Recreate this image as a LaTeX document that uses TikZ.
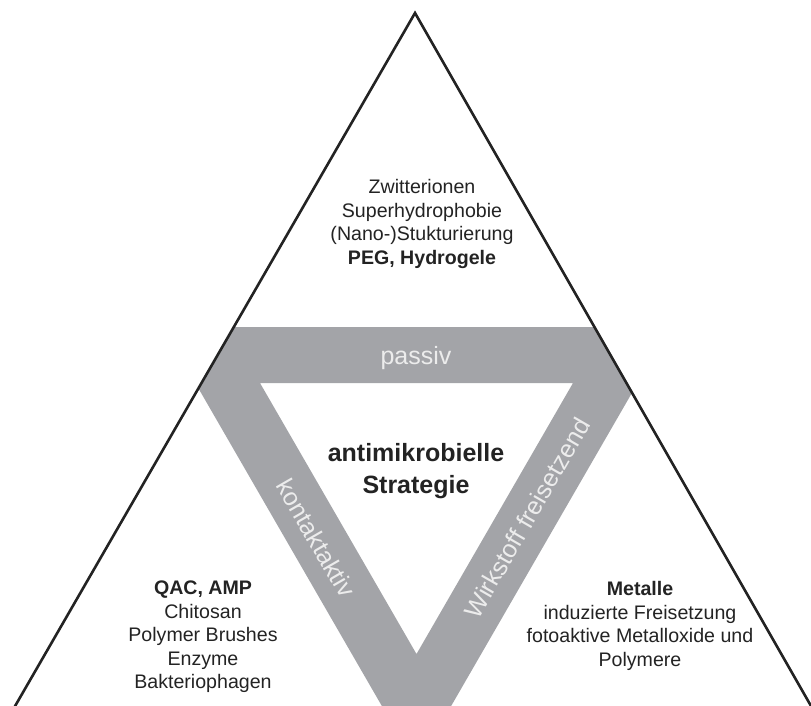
\documentclass[tikz,border=0pt]{standalone}
\usepackage{fontspec}
\setmainfont{Liberation Sans}
\definecolor{band}{RGB}{163,164,168}
\definecolor{ink}{RGB}{35,35,35}
\definecolor{bandtext}{RGB}{236,236,236}
\begin{document}
\begin{tikzpicture}[x=1pt,y=-1pt,
  lbl/.style={font=\fontsize{19.6}{23.5}\selectfont, text=ink, align=center, inner sep=0pt},
  bandlbl/.style={font=\fontsize{25}{30}\selectfont, text=bandtext, inner sep=0pt},
  titlelbl/.style={font=\bfseries\fontsize{25}{32}\selectfont, text=ink, align=center, inner sep=0pt},
  outline/.style={line width=2.6pt, draw=ink, line join=miter}]
\useasboundingbox (0,0) rectangle (811,706);
\clip (0,0) rectangle (811,706);
\coordinate (apex) at (415,13);
\coordinate (bl) at (3,727);
\coordinate (br) at (823,727);
\begin{scope}
  \clip (apex) -- (bl) -- (br) -- cycle;
  \fill[band, even odd rule] (163,327) -- (670,327) -- (416.5,766) -- cycle
        (260,383) -- (573,383) -- (416.5,654) -- cycle;
\end{scope}
\draw[outline] (bl) -- (apex) -- (br);
\node[lbl] (top) at (422,224) {Zwitterionen\\Superhydrophobie\\(Nano-)Stukturierung\\\textbf{PEG, Hydrogele}};
\node[lbl] (left) at (203,637) {\textbf{QAC, AMP}\\Chitosan\\Polymer Brushes\\Enzyme\\Bakteriophagen};
\node[lbl] (right) at (640,626) {\textbf{Metalle}\\induzierte Freisetzung\\fotoaktive Metalloxide und\\Polymere};
\node[titlelbl] (center) at (416,471) {antimikrobielle\\Strategie};
\node[bandlbl] (passiv) at (416,358) {passiv};
\node[bandlbl, rotate=-60] (kontakt) at (316,538) {kontaktaktiv};
\node[bandlbl, rotate=60] (wirk) at (527,518) {Wirkstoff freisetzend};
\end{tikzpicture}
\end{document}
